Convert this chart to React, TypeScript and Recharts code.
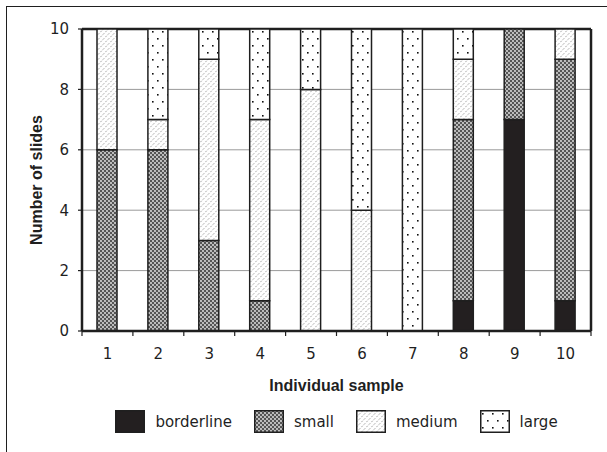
import React from "react";
import { BarChart, Bar, XAxis, YAxis, CartesianGrid, Label } from "recharts";

const samples = ["1", "2", "3", "4", "5", "6", "7", "8", "9", "10"];
const borderline = [0, 0, 0, 0, 0, 0, 0, 1, 7, 1];
const small = [6, 6, 3, 1, 0, 0, 0, 6, 3, 8];
const medium = [4, 1, 6, 6, 8, 4, 0, 2, 0, 1];
const large = [0, 3, 1, 3, 2, 6, 10, 1, 0, 0];
const yTicks = [0, 2, 4, 6, 8, 10];

const data = samples.map((s, i) => ({
  sample: s,
  borderline: borderline[i],
  small: small[i],
  medium: medium[i],
  large: large[i],
}));

const SERIES = [
  { key: "borderline", fill: "solid" },
  { key: "small", fill: "small" },
  { key: "medium", fill: "medium" },
  { key: "large", fill: "large" },
];

const INK = "#1f1f1f";
const FONT = "'DejaVu Sans', sans-serif";
const BOLD = "'Liberation Sans', Arial, sans-serif";

const fillFor = (f: string, prefix: string) => (f === "solid" ? "#231f20" : `url(#${prefix}-${f})`);

// hatch fills that stand in for the printed halftones
function Patterns({ prefix }: { prefix: string }) {
  return (
    <defs>
      <pattern id={`${prefix}-small`} width={4} height={4} patternUnits="userSpaceOnUse">
        <rect width={4} height={4} fill="#555" />
        <circle cx={1} cy={1} r={0.9} fill="#eee" />
        <circle cx={3} cy={3} r={0.9} fill="#eee" />
      </pattern>
      <pattern id={`${prefix}-medium`} width={5} height={5} patternUnits="userSpaceOnUse">
        <rect width={5} height={5} fill="#fff" />
        <path d="M0.3 2.2 L1.8 0.7 M2.8 4.7 L4.3 3.2" stroke="#9a9a9a" strokeWidth={0.9} />
      </pattern>
      <pattern id={`${prefix}-large`} width={10} height={14} patternUnits="userSpaceOnUse">
        <rect width={10} height={14} fill="#fff" />
        <rect x={2} y={3} width={1.6} height={1.6} fill="#111" />
        <rect x={7} y={10} width={1.6} height={1.6} fill="#111" />
      </pattern>
    </defs>
  );
}

const XTick = (props: any) => {
  const { x, y, payload, index, visibleTicksCount } = props;
  const half = payload && payload.offset ? payload.offset : 25.45;
  const axisY = y - 17;
  return (
    <g>
      <line x1={x - half} x2={x - half} y1={axisY} y2={axisY + 5} stroke={INK} strokeWidth={1.2} />
      {index === visibleTicksCount - 1 && (
        <line x1={x + half} x2={x + half} y1={axisY} y2={axisY + 5} stroke={INK} strokeWidth={1.2} />
      )}
      <text x={x} y={y} dy="0.72em" textAnchor="middle" fontSize={15} fontFamily={FONT} fill={INK}>
        {payload.value}
      </text>
    </g>
  );
};

const YTitle = (props: any) => {
  const vb = props.viewBox || { x: 0, y: 29, width: 82, height: 302 };
  const cx = vb.x + 36;
  const cy = vb.y + vb.height / 2;
  return (
    <text
      x={cx}
      y={cy}
      transform={`rotate(-90 ${cx} ${cy})`}
      textAnchor="middle"
      dominantBaseline="central"
      fontSize={16}
      fontWeight="bold"
      fontFamily={BOLD}
      fill={INK}
    >
      Number of slides
    </text>
  );
};

function LegendBox() {
  return (
    <div
      style={{
        position: "absolute",
        top: 410,
        left: 82,
        width: 509,
        display: "flex",
        justifyContent: "center",
        alignItems: "center",
        fontFamily: FONT,
        fontSize: 15,
        color: INK,
      }}
    >
      {SERIES.map((s, i) => (
        <div key={s.key} style={{ display: "flex", alignItems: "center", marginLeft: i === 0 ? 0 : 22 }}>
          <svg width={30} height={23} style={{ display: "block" }}>
            <Patterns prefix={`lg${i}`} />
            <rect x={0.75} y={0.75} width={28.5} height={21.5} fill={fillFor(s.fill, `lg${i}`)} stroke={INK} strokeWidth={1.5} />
          </svg>
          <span style={{ marginLeft: 10 }}>{s.key}</span>
        </div>
      ))}
    </div>
  );
}

export default function App() {
  return (
    <div style={{ position: "absolute", left: 0, top: 0, width: 607, height: 452, background: "#fff" }}>
      {/* frame, only top and left edges survive the crop */}
      <div
        style={{
          position: "absolute",
          left: 6,
          top: 6,
          right: 0,
          bottom: 0,
          borderTop: `1.5px solid ${INK}`,
          borderLeft: `1.5px solid ${INK}`,
        }}
      />
      <div style={{ position: "absolute", left: 0, top: 0 }}>
        <BarChart width={607} height={452} data={data} margin={{ top: 29, right: 16, left: 0, bottom: 59 }} barSize={20}>
          <Patterns prefix="pt" />
          <CartesianGrid vertical={false} stroke="#9a9a9a" strokeWidth={1} />
          {/* plot frame: top and right edges */}
          <CartesianGrid
            stroke={INK}
            strokeWidth={2.5}
            horizontalCoordinatesGenerator={({ offset }: any) => [offset.top]}
            verticalCoordinatesGenerator={({ offset }: any) => [offset.left + offset.width]}
          />
          <XAxis
            dataKey="sample"
            height={62}
            tick={<XTick />}
            tickLine={false}
            tickSize={4}
            tickMargin={13}
            interval={0}
            axisLine={{ stroke: INK, strokeWidth: 2.5 }}
          >
            <Label
              value="Individual sample"
              position="insideBottom"
              offset={2}
              style={{ fontSize: 16, fontWeight: "bold", fontFamily: BOLD, fill: INK }}
            />
          </XAxis>
          <YAxis
            width={82}
            domain={[0, 10]}
            ticks={yTicks}
            tickSize={4}
            tickMargin={9}
            tick={{ fontSize: 15, fontFamily: FONT, fill: INK }}
            tickLine={{ stroke: INK, strokeWidth: 1.2 }}
            axisLine={{ stroke: INK, strokeWidth: 2.5 }}
          >
            <Label content={<YTitle />} />
          </YAxis>
          {SERIES.map((s) => (
            <Bar
              key={s.key}
              dataKey={s.key}
              stackId="a"
              fill={fillFor(s.fill, "pt")}
              stroke={INK}
              strokeWidth={1.5}
              isAnimationActive={false}
            />
          ))}
        </BarChart>
      </div>
      <LegendBox />
    </div>
  );
}
